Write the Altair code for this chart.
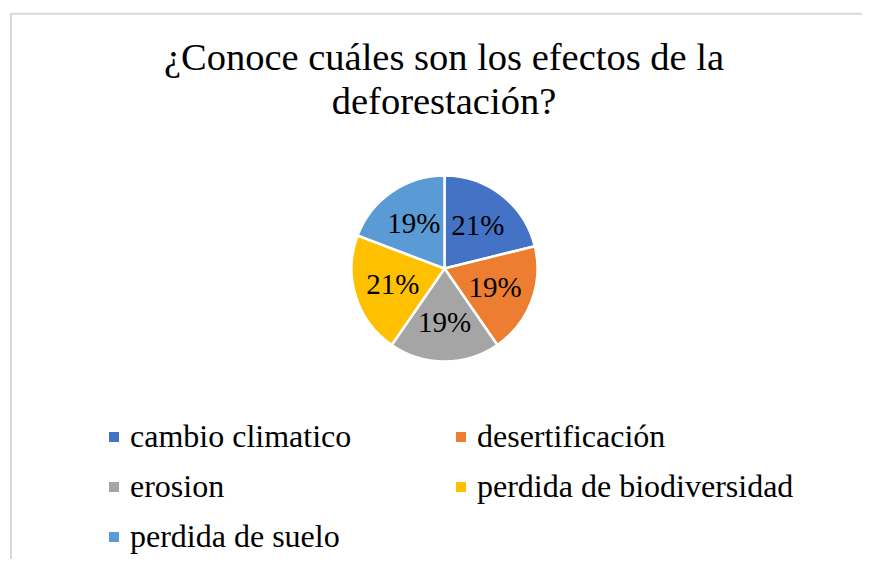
import altair as alt
import pandas as pd

categories = ["cambio climatico", "desertificación", "erosion",
              "perdida de biodiversidad", "perdida de suelo"]
counts = [11, 10, 10, 11, 10]
colors = ["#4472C4", "#ED7D31", "#A5A5A5", "#FFC000", "#5B9BD5"]
title_lines = ["¿Conoce cuáles son los efectos de la", "deforestación?"]

total = sum(counts)
df = pd.DataFrame({
    "categoria": categories,
    "valor": counts,
    "orden": list(range(len(categories))),
    "etiqueta": [f"{round(v / total * 100)}%" for v in counts],
})

# legend fills column by column: reorder so rows read like the reference
leg_idx = [0, 2, 4, 1, 3]
leg_domain = [categories[i] for i in leg_idx]
leg_range = [colors[i] for i in leg_idx]

FONT = "Liberation Serif, Times New Roman, Times, serif"
CX, CY, R = 436.5, 260.5, 93

base = alt.Chart(df).encode(
    theta=alt.Theta("valor:Q", stack=True),
    order=alt.Order("orden:Q"),
)

color = alt.Color(
    "categoria:N",
    scale=alt.Scale(domain=leg_domain, range=leg_range),
    sort=leg_domain,
    legend=alt.Legend(
        title=None,
        orient="none",
        legendX=90,
        legendY=413,
        columns=2,
        columnPadding=93,
        rowPadding=18,
        symbolType="square",
        symbolSize=100,
        symbolStrokeWidth=0,
        symbolOpacity=1,
        labelFont=FONT,
        labelFontSize=32,
        labelColor="#000000",
        labelOffset=0,
        labelLimit=0,
        padding=0,
    ),
)

pie = base.mark_arc(radius=R, stroke="#ffffff", strokeWidth=2.5).encode(
    color=color,
    x=alt.value(CX),
    y=alt.value(CY),
)

labels = base.mark_text(
    radius=54, font=FONT, fontSize=29, color="#000000",
    align="center", baseline="middle",
).encode(
    text="etiqueta:N",
    x=alt.value(CX),
    y=alt.value(CY),
)

frame_df = pd.DataFrame({"k": [0]})
frame = alt.Chart(frame_df).mark_rect(
    fill=None, stroke="#d9d9d9", strokeWidth=2, fillOpacity=0
).encode(
    x=alt.value(3), x2=alt.value(900), y=alt.value(5.7), y2=alt.value(900)
)

title = alt.Chart(frame_df).mark_text(
    text=title_lines, font=FONT, fontSize=38.5, color="#000000",
    align="center", baseline="alphabetic", lineHeight=44,
).encode(x=alt.value(436), y=alt.value(62))

chart = alt.layer(frame, pie, labels, title).properties(
    width=854, height=551,
    autosize=alt.AutoSizeParams(type="none"),
    padding=0,
).configure_view(stroke=None)

chart.save("out.html", embed_options={"renderer": "svg", "actions": False})
